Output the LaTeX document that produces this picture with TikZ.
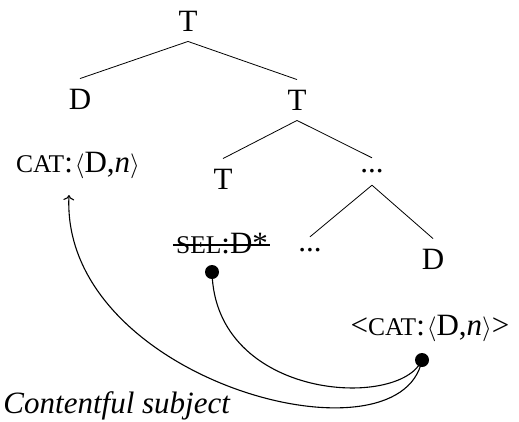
\documentclass[tikz,border=0pt]{standalone}
\usepackage{fontspec}
\setmainfont{Liberation Serif}
\usetikzlibrary{arrows.meta}
\newcommand\fsc[1]{{\fontsize{25.5}{25.5}\selectfont #1}}
\begin{document}
\begin{tikzpicture}[x=1pt,y=-1pt,
  every node/.style={font=\fontsize{31}{31}\selectfont},
  cat/.style={text height=20.5pt,text depth=0pt,inner xsep=0pt,inner ysep=10pt},
  ell/.style={inner sep=0pt,minimum height=27pt},
  lab/.style={anchor=base,inner sep=0pt},
  branch/.style={line width=0.8pt},
  link/.style={line width=1.1pt},
  dot/.style={circle,fill=black,inner sep=0pt,minimum size=14pt}]
\useasboundingbox (0,0) rectangle (519,421);
\node[cat] (T1) at (188,21) {T};
\node[cat] (D1) at (80,99) {D};
\node[cat] (T2) at (297,100) {T};
\node[cat] (T3) at (223,179) {T};
\node[ell] (E1) at (372,171.5) {...};
\node[ell] (E2) at (310,250.5) {...};
\node[cat] (D2) at (433,259) {D};
\node[lab] (S) at (222,253) {\fsc{SEL}:D*};
\node[lab] (C1) at (78,172) {\fsc{CAT}:\kern2pt$\langle$D,\textit{n}$\rangle$};
\node[lab] (C2) at (430,335) {<\fsc{CAT}:\kern2pt$\langle$D,\textit{n}$\rangle$>};
\node[lab] (CS) at (117,413) {\textit{Contentful subject}};
\node[dot] (p1) at (212,272) {};
\node[dot] (p2) at (422,360) {};
\coordinate (tip) at (69,195);
\draw[branch] (T1.south) -- (D1.north);
\draw[branch] (T1.south) -- (T2.north);
\draw[branch] (T2.south) -- (T3.north);
\draw[branch] (T2.south) -- (E1.north);
\draw[branch] (E1.south) -- (E2.north);
\draw[branch] (E1.south) -- (D2.north);
\draw[line width=2.2pt] ([xshift=-3pt,yshift=8pt]S.base west) -- ([xshift=2pt,yshift=8pt]S.base east);
\draw[link] (p1.center) .. controls (215,400) and (400,410) .. (p2.center);
\draw[link,-{To[scale=1.3]}] (p2.center) .. controls (400,470) and (60,380) .. (tip);
\end{tikzpicture}
\end{document}
